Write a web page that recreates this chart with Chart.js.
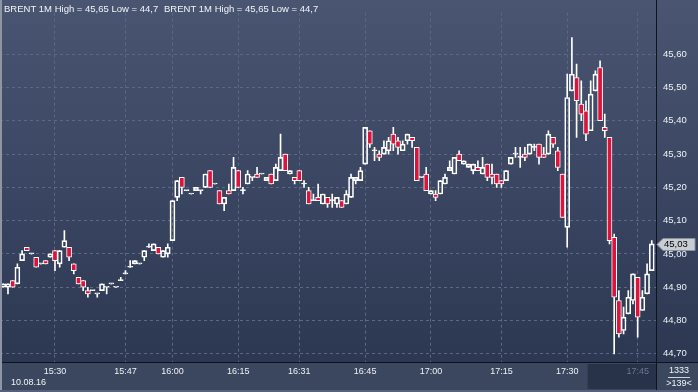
<!DOCTYPE html>
<html>
<head>
<meta charset="utf-8">
<script src="https://cdn.jsdelivr.net/npm/chart.js@4.4.1/dist/chart.umd.min.js"></script>
<style>
  html, body { margin: 0; padding: 0; background: #2c3752; overflow: hidden; }
</style>
</head>
<body>
<canvas id="brent" width="698" height="392"></canvas>
<script>
// 1-minute BRENT candles, 10.08.16, 15:19 .. 17:48 (139 bars)
const opens = [
  44.90, 44.90, 44.92, 44.91, 44.98, 45.02, 45.00, 44.99, 44.97, 44.98,
  44.99, 45.01, 44.97, 45.02, 45.02, 44.97, 44.93, 44.92, 44.89, 44.89,
  44.88, 44.89, 44.90, 44.91, 44.90, 44.92, 44.94, 44.96, 44.97, 44.97,
  44.99, 45.02, 45.01, 45.02, 44.99, 45.00, 45.04, 45.17, 45.23, 45.19,
  45.18, 45.19, 45.19, 45.20, 45.25, 45.21, 45.19, 45.15, 45.19, 45.19,
  45.25, 45.19, 45.21, 45.23, 45.24, 45.24, 45.22, 45.24, 45.22, 45.25,
  45.30, 45.24, 45.23, 45.25, 45.21, 45.19, 45.16, 45.17, 45.15, 45.17,
  45.16, 45.15, 45.16, 45.15, 45.17, 45.22, 45.22, 45.27, 45.37, 45.31,
  45.30, 45.30, 45.31, 45.36, 45.34, 45.31, 45.34, 45.35, 45.32, 45.23,
  45.24, 45.18, 45.18, 45.18, 45.21, 45.25, 45.24, 45.30, 45.27, 45.26,
  45.25, 45.26, 45.24, 45.27, 45.24, 45.24, 45.22, 45.22, 45.27, 45.30,
  45.29, 45.30, 45.30, 45.32, 45.33, 45.30, 45.30, 45.35, 45.31, 45.24,
  45.08, 45.49, 45.53, 45.45, 45.43, 45.37, 45.49, 45.56, 45.38, 45.35,
  45.05, 44.86, 44.77, 44.82, 44.86, 44.93, 44.83, 44.88, 44.95
];
const highs = [
  44.91, 44.91, 44.92, 44.97, 45.01, 45.02, 45.00, 44.99, 44.97, 44.98,
  45.00, 45.01, 45.01, 45.07, 45.02, 44.97, 44.93, 44.92, 44.90, 44.89,
  44.88, 44.91, 44.90, 44.91, 44.90, 44.93, 44.95, 44.98, 44.98, 44.97,
  45.01, 45.03, 45.03, 45.02, 45.01, 45.03, 45.16, 45.22, 45.23, 45.19,
  45.18, 45.20, 45.19, 45.24, 45.25, 45.21, 45.19, 45.17, 45.21, 45.29,
  45.25, 45.20, 45.25, 45.23, 45.26, 45.24, 45.23, 45.24, 45.27, 45.36,
  45.30, 45.25, 45.23, 45.25, 45.22, 45.20, 45.18, 45.21, 45.18, 45.17,
  45.18, 45.17, 45.16, 45.19, 45.24, 45.23, 45.26, 45.38, 45.37, 45.32,
  45.31, 45.34, 45.35, 45.38, 45.35, 45.34, 45.36, 45.35, 45.32, 45.23,
  45.26, 45.19, 45.19, 45.22, 45.24, 45.28, 45.29, 45.31, 45.28, 45.27,
  45.27, 45.28, 45.29, 45.27, 45.27, 45.24, 45.22, 45.25, 45.29, 45.32,
  45.32, 45.32, 45.33, 45.33, 45.33, 45.32, 45.37, 45.35, 45.32, 45.24,
  45.54, 45.65, 45.57, 45.52, 45.46, 45.52, 45.55, 45.58, 45.42, 45.35,
  45.06, 44.89, 44.84, 44.89, 44.94, 44.93, 44.89, 44.97, 45.04
];
const lows = [
  44.90, 44.88, 44.90, 44.91, 44.98, 45.01, 45.00, 44.96, 44.97, 44.97,
  44.99, 44.95, 44.96, 45.02, 44.98, 44.94, 44.91, 44.89, 44.87, 44.89,
  44.87, 44.89, 44.88, 44.91, 44.90, 44.92, 44.94, 44.96, 44.97, 44.97,
  44.98, 45.02, 45.01, 45.00, 44.99, 44.99, 45.04, 45.16, 45.18, 45.19,
  45.18, 45.19, 45.18, 45.20, 45.20, 45.21, 45.15, 45.13, 45.18, 45.19,
  45.20, 45.18, 45.21, 45.22, 45.23, 45.24, 45.22, 45.21, 45.22, 45.25,
  45.25, 45.24, 45.21, 45.22, 45.20, 45.15, 45.16, 45.16, 45.15, 45.14,
  45.14, 45.14, 45.14, 45.15, 45.17, 45.21, 45.22, 45.27, 45.32, 45.28,
  45.28, 45.30, 45.30, 45.31, 45.30, 45.31, 45.33, 45.32, 45.22, 45.23,
  45.19, 45.18, 45.16, 45.18, 45.21, 45.25, 45.24, 45.28, 45.27, 45.26,
  45.24, 45.25, 45.24, 45.22, 45.21, 45.20, 45.20, 45.22, 45.27, 45.29,
  45.26, 45.28, 45.30, 45.31, 45.27, 45.29, 45.30, 45.32, 45.25, 45.11,
  45.02, 45.49, 45.35, 45.40, 45.34, 45.37, 45.49, 45.40, 45.35, 45.03,
  44.70, 44.75, 44.76, 44.82, 44.85, 44.75, 44.83, 44.88, 44.95
];
const closes = [
  44.91, 44.91, 44.90, 44.96, 45.00, 45.01, 45.00, 44.96, 44.97, 44.97,
  45.00, 44.98, 45.01, 45.04, 44.99, 44.95, 44.91, 44.90, 44.88, 44.89,
  44.88, 44.91, 44.90, 44.91, 44.90, 44.92, 44.94, 44.96, 44.98, 44.97,
  45.01, 45.02, 45.03, 45.00, 45.01, 45.02, 45.16, 45.22, 45.20, 45.19,
  45.18, 45.20, 45.19, 45.24, 45.20, 45.21, 45.15, 45.17, 45.18, 45.26,
  45.20, 45.19, 45.24, 45.23, 45.23, 45.24, 45.23, 45.21, 45.26, 45.29,
  45.25, 45.25, 45.22, 45.22, 45.21, 45.15, 45.16, 45.16, 45.18, 45.15,
  45.16, 45.17, 45.14, 45.18, 45.23, 45.23, 45.25, 45.38, 45.33, 45.31,
  45.29, 45.32, 45.34, 45.33, 45.32, 45.33, 45.36, 45.34, 45.22, 45.23,
  45.19, 45.19, 45.17, 45.22, 45.23, 45.26, 45.29, 45.28, 45.28, 45.27,
  45.27, 45.25, 45.26, 45.23, 45.23, 45.21, 45.21, 45.25, 45.29, 45.30,
  45.29, 45.29, 45.33, 45.32, 45.29, 45.29, 45.36, 45.33, 45.26, 45.11,
  45.47, 45.54, 45.46, 45.42, 45.36, 45.48, 45.54, 45.40, 45.37, 45.04,
  44.87, 44.76, 44.81, 44.87, 44.94, 44.81, 44.87, 44.94, 45.03
];

// time axis: bar index -> label
const timeTickBars = [11, 26, 36, 50, 63, 77, 91, 106, 120, 135];
const timeTickLabels = ['15:30', '15:47', '16:00', '16:15', '16:31', '16:45', '17:00', '17:15', '17:30', '17:45'];
const priceTicks = [44.7, 44.8, 44.9, 45.0, 45.1, 45.2, 45.3, 45.4, 45.5, 45.6];

const BG_TOP = '#4a5572', BG_BOTTOM = '#2c3752';
const UP_FILL = 'rgba(0,0,0,0)', DOWN_FILL = '#dc143c';

Chart.defaults.font.family = '"Liberation Sans", Arial, sans-serif';

const upperWicks = opens.map((o, i) => ({ x: i, y: [Math.max(o, closes[i]), highs[i]] }));
const lowerWicks = opens.map((o, i) => ({ x: i, y: [lows[i], Math.min(o, closes[i])] }));
const bodies = opens.map((o, i) => ({ x: i, y: [o, closes[i]] }));

const fmtPrice = v => v.toFixed(2).replace('.', ',');

// backgrounds, frame, header and last price badge
const decor = {
  id: 'decor',
  beforeDraw(chart) {
    const { ctx, chartArea: a, width, height } = chart;
    ctx.save();
    const g = ctx.createLinearGradient(0, 0, 0, a.bottom);
    g.addColorStop(0, BG_TOP);
    g.addColorStop(1, BG_BOTTOM);
    ctx.fillStyle = g;
    ctx.fillRect(0, 0, width, a.bottom);
    // time strip
    ctx.fillStyle = '#3b475f';
    ctx.fillRect(0, a.bottom, width, height - a.bottom);
    // darker box behind the last time label
    const lastX = chart.scales.x.getPixelForValue(timeTickBars[timeTickBars.length - 1]);
    ctx.fillStyle = '#28334a';
    ctx.fillRect(lastX - 50, a.bottom + 2, a.right - (lastX - 50), height - a.bottom - 5);
    ctx.restore();
  },
  afterDraw(chart) {
    const { ctx, chartArea: a, width, height } = chart;
    const y = chart.scales.y;
    ctx.save();
    // frame lines
    ctx.fillStyle = '#0e1320';
    ctx.fillRect(a.right, 0, 1, height);
    ctx.fillRect(0, a.bottom, width, 1);
    ctx.fillStyle = '#8e95a4';
    ctx.fillRect(0, 0, 2, height);
    ctx.fillStyle = '#56607a';
    ctx.fillRect(0, height - 2, width, 2);

    // header
    const hdr = 'BRENT 1M High = ' + fmtPrice(Math.max(...highs)) + ' Low = ' + String(Math.min(...lows)).replace('.', ',');
    ctx.font = '9.5px "Liberation Sans", Arial, sans-serif';
    ctx.fillStyle = '#f2f4f8';
    ctx.textBaseline = 'middle';
    ctx.textAlign = 'left';
    ctx.fillText(hdr, 4, 9);
    ctx.fillText(hdr, 164, 9);

    // date + bar counter
    ctx.font = '9px "Liberation Sans", Arial, sans-serif';
    ctx.fillText('10.08.16', 11, 383);
    ctx.textAlign = 'center';
    ctx.fillText('1333', 679, 371);
    ctx.fillText('>' + opens.length + '<', 679, 384);
    ctx.fillStyle = '#d0d4dc';
    ctx.fillRect(668, 377, 22, 1);

    // last price badge
    const last = closes[closes.length - 1];
    const py = Math.round(y.getPixelForValue(last)) + 0.5;
    ctx.beginPath();
    ctx.moveTo(a.right + 1, py);
    ctx.lineTo(a.right + 7, py - 6);
    ctx.lineTo(width - 3, py - 6);
    ctx.lineTo(width - 3, py + 6);
    ctx.lineTo(a.right + 7, py + 6);
    ctx.closePath();
    ctx.fillStyle = '#c8ccd3';
    ctx.fill();
    ctx.strokeStyle = '#8b919c';
    ctx.lineWidth = 1;
    ctx.stroke();
    ctx.fillStyle = '#000';
    ctx.textAlign = 'left';
    ctx.font = '9.5px "Liberation Sans", Arial, sans-serif';
    ctx.fillText(fmtPrice(last), a.right + 8, py);
    ctx.restore();
  }
};

new Chart(document.getElementById('brent'), {
  type: 'bar',
  data: {
    datasets: [
      {
        data: bodies,
        grouped: false,
        barThickness: 5,
        minBarLength: 1,
        borderWidth: 1,
        borderSkipped: false,
        borderColor: '#ffffff',
        backgroundColor: bodies.map(b => b.y[1] < b.y[0] ? DOWN_FILL : UP_FILL)
      },
      { data: upperWicks, grouped: false, barThickness: 1, backgroundColor: '#ffffff', borderWidth: 0 },
      { data: lowerWicks, grouped: false, barThickness: 1, backgroundColor: '#ffffff', borderWidth: 0 }
    ]
  },
  options: {
    responsive: false,
    animation: false,
    layout: { padding: 0 },
    plugins: { legend: { display: false }, tooltip: { enabled: false } },
    scales: {
      x: {
        type: 'linear',
        min: -0.7,
        max: 138.9,
        offset: false,
        grid: { offset: false, color: '#5d6984', drawTicks: false },
        border: { display: false, dash: [3, 3] },
        afterBuildTicks: s => { s.ticks = timeTickBars.map(v => ({ value: v })); },
        afterFit: s => { s.height = 30; },
        ticks: {
          autoSkip: false,
          maxRotation: 0,
          padding: 4,
          font: { size: 9 },
          color: c => c.index === timeTickBars.length - 1 ? '#6c7790' : '#eef1f6',
          callback: (v, i) => timeTickLabels[i]
        }
      },
      y: {
        position: 'right',
        min: 44.6754,
        max: 45.7246,
        grid: { color: '#5d6984', drawTicks: false },
        border: { display: false, dash: [3, 3] },
        afterBuildTicks: s => { s.ticks = priceTicks.map(v => ({ value: v })); },
        afterFit: s => { s.width = 42; },
        ticks: {
          padding: 7,
          font: { size: 9.5 },
          color: '#eef1f6',
          callback: v => fmtPrice(v)
        }
      }
    }
  },
  plugins: [decor]
});
</script>
</body>
</html>
